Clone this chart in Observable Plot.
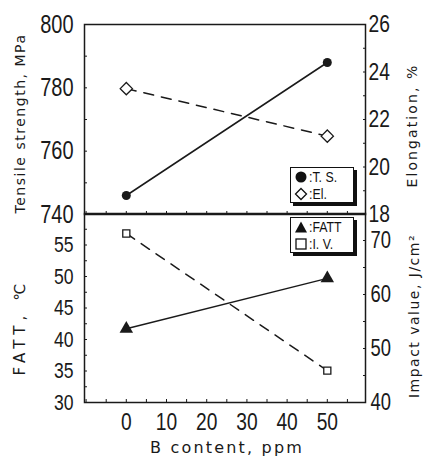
<!DOCTYPE html>
<html><head><meta charset="utf-8">
<script src="https://cdn.jsdelivr.net/npm/d3@7"></script>
<script src="https://cdn.jsdelivr.net/npm/@observablehq/plot@0.6"></script>
<style>
body{margin:0;background:#fff;}
#chart{position:relative;width:425px;height:459px;overflow:hidden;background:#fff;}
#chart svg{position:absolute;left:0;overflow:visible;}
.legend{position:absolute;left:290px;width:64px;height:36px;border:1.5px solid #111;box-shadow:3px 3px 0 #111;background:#fff;
  font-family:"Liberation Sans","Arial",sans-serif;font-size:14px;line-height:16px;color:#111;padding:1px 0 0 3px;box-sizing:border-box;overflow:hidden;}
.legend div{display:flex;align-items:center;height:16.5px;}
.legend span{display:inline-block;transform:scaleX(0.88);transform-origin:left center;white-space:nowrap;}
.legend svg{position:static !important;margin-right:1px;flex:none;}
</style></head>
<body><div id="chart"></div>
<script>
// ---- data ----
const bContent = [0, 50];
const tensileStrength = [746, 788];
const elongation = [23.3, 21.3];
const fatt = [41.7, 49.7];
const impactValue = [71.3, 45.9];

const xTickLabels = [0, 10, 20, 30, 40, 50];
const tsTicks = [740, 760, 780, 800];
const elTicks = [18, 20, 22, 24, 26];
const fattTicks = [30, 35, 40, 45, 50, 55];
const ivTicks = [40, 50, 60, 70];

// secondary-axis mappings
const elToTs = e => 740 + (e - 18) * 60 / 8;
const ivToFatt = v => 30 + (v - 40) * 30 / 35;

const topRows = bContent.map((b, i) => ({b, ts: tensileStrength[i], el: elToTs(elongation[i])}));
const botRows = bContent.map((b, i) => ({b, fatt: fatt[i], iv: ivToFatt(impactValue[i])}));

const xDomain = [-10.4, 59.5];
const numFont = '"Liberation Sans","Arial",sans-serif';
const lblFont = '"DejaVu Sans",sans-serif';
const ink = "#1a1a1a";

const chart = document.getElementById("chart");

const topPlot = Plot.plot({
  width: 425, height: 214,
  marginLeft: 84, marginRight: 60, marginTop: 24, marginBottom: 0,
  x: {domain: xDomain, axis: null},
  y: {domain: [740, 800], axis: null},
  style: {background: "transparent", overflow: "visible", fontFamily: numFont, color: ink},
  marks: [
    Plot.axisY(tsTicks, {anchor: "left", tickSize: 0, tickPadding: 11, fontSize: 25, label: null}),
    Plot.axisY(d3.range(740, 801, 10), {anchor: "left", tickSize: -3, tickFormat: () => "", label: null}),
    Plot.axisY(elTicks.map(elToTs), {anchor: "right", tickSize: 0, tickPadding: 3, fontSize: 24, tickFormat: v => Math.round(18 + (v - 740) * 8 / 60), label: null}),
    Plot.axisY(d3.range(18, 27, 1).map(elToTs), {anchor: "right", tickSize: -3, tickFormat: () => "", label: null}),
    Plot.axisX(d3.range(-10, 60, 5), {anchor: "bottom", tickSize: -3, tickFormat: () => "", label: null}),
    Plot.frame({stroke: ink, strokeWidth: 1.5}),
    Plot.line(topRows, {x: "b", y: "el", stroke: ink, strokeWidth: 1.5, strokeDasharray: "10,8"}),
    Plot.line(topRows, {x: "b", y: "ts", stroke: ink, strokeWidth: 1.5}),
    Plot.dot(topRows, {x: "b", y: "ts", symbol: "circle", fill: ink, r: 4.5}),
    Plot.dot(topRows, {x: "b", y: "el", symbol: "diamond2", fill: "white", stroke: ink, strokeWidth: 1.3, r: 5.5}),
    Plot.text(["Tensile strength, MPa"], {frameAnchor: "left", textAnchor: "middle", dx: -64, dy: 4, rotate: -90, fontSize: 14, fontFamily: lblFont, fill: ink}),
    Plot.text(["Elongation, %"], {frameAnchor: "right", textAnchor: "middle", dx: 47, dy: 6, rotate: -90, fontSize: 14, fontFamily: lblFont, fill: ink})
  ]
});
topPlot.style.top = "0px";
chart.appendChild(topPlot);

const botPlot = Plot.plot({
  width: 425, height: 246,
  marginLeft: 84, marginRight: 60, marginTop: 0, marginBottom: 57,
  x: {domain: xDomain, axis: null},
  y: {domain: [30, 60], axis: null},
  style: {background: "transparent", overflow: "visible", fontFamily: numFont, color: ink},
  marks: [
    Plot.axisY(fattTicks, {anchor: "left", tickSize: 0, tickPadding: 11, fontSize: 22, label: null}),
    Plot.axisY(d3.range(30, 60.1, 2.5), {anchor: "left", tickSize: -3, tickFormat: () => "", label: null}),
    Plot.axisY(ivTicks.map(ivToFatt), {anchor: "right", tickSize: 0, tickPadding: 5, fontSize: 23, tickFormat: v => Math.round(40 + (v - 30) * 35 / 30), label: null}),
    Plot.axisY(d3.range(40, 76, 5).map(ivToFatt), {anchor: "right", tickSize: -3, tickFormat: () => "", label: null}),
    Plot.axisX(xTickLabels, {anchor: "bottom", tickSize: 0, tickPadding: 10, fontSize: 24, label: null}),
    Plot.axisX(d3.range(-10, 60, 5), {anchor: "bottom", tickSize: -3, tickFormat: () => "", label: null}),
    Plot.frame({stroke: ink, strokeWidth: 1.5}),
    Plot.line(botRows, {x: "b", y: "iv", stroke: ink, strokeWidth: 1.5, strokeDasharray: "10,8"}),
    Plot.line(botRows, {x: "b", y: "fatt", stroke: ink, strokeWidth: 1.5}),
    Plot.dot(botRows, {x: "b", y: "fatt", symbol: "triangle", fill: ink, r: 5}),
    Plot.dot(botRows, {x: "b", y: "iv", symbol: "square", fill: "white", stroke: ink, strokeWidth: 1.3, r: 4}),
    Plot.text(["FATT, \u2103"], {frameAnchor: "left", textAnchor: "middle", dx: -64, dy: 19, rotate: -90, fontSize: 15, fontFamily: lblFont, fill: ink}),
    Plot.text(["Impact value, J/cm\u00b2"], {frameAnchor: "right", textAnchor: "middle", dx: 49, dy: 8, rotate: -90, fontSize: 14, fontFamily: lblFont, fill: ink}),
    Plot.text(["B content, ppm"], {frameAnchor: "bottom", textAnchor: "middle", dx: 2, dy: 50, fontSize: 16, fontFamily: lblFont, fill: ink})
  ]
});
botPlot.style.top = "213px";
chart.appendChild(botPlot);

// condense the tick numerals (narrow, tall figures as in the reference)
for (const svg of [topPlot, botPlot]) {
  svg.querySelectorAll('g[aria-label$="tick label"] text').forEach(t => {
    const tr = t.getAttribute("transform") || "";
    t.setAttribute("transform", tr + " scale(0.8,1)");
  });
}
// spread the axis titles to the reference's letter-spaced widths
const titleLen = {"Tensile strength, MPa": 180, "Elongation, %": 124, "FATT, \u2103": 97, "Impact value, J/cm\u00b2": 164, "B content, ppm": 154};
for (const svg of [topPlot, botPlot]) {
  svg.querySelectorAll('g[aria-label="text"] text').forEach(t => {
    const target = titleLen[t.textContent];
    if (target) {
      const L = t.getComputedTextLength();
      const n = t.textContent.length;
      const ls = Math.max(0, (target - L) / n);
      t.style.letterSpacing = ls + "px";
    }
  });
}

// legends
function sym(shape) {
  const s = {circle: '<circle cx="7" cy="7" r="5.5" fill="#111"/>',
    diamond: '<path d="M7,1.5 L12.5,7 L7,12.5 L1.5,7Z" fill="#fff" stroke="#111" stroke-width="1.3"/>',
    triangle: '<path d="M7,1.5 L13,12.5 L1,12.5Z" fill="#111"/>',
    square: '<rect x="2" y="2" width="10" height="10" fill="#fff" stroke="#111" stroke-width="1.3"/>'}[shape];
  return `<svg width="14" height="14" viewBox="0 0 14 14">${s}</svg>`;
}
function legend(topPx, items) {
  const d = document.createElement("div");
  d.className = "legend";
  d.style.top = topPx + "px";
  d.innerHTML = items.map(([s, t]) => `<div>${sym(s)}<span>${t}</span></div>`).join("");
  chart.appendChild(d);
}
legend(167, [["circle", ":T. S."], ["diamond", ":El."]]);
legend(217, [["triangle", ":FATT"], ["square", ":I. V."]]);
</script></body></html>
